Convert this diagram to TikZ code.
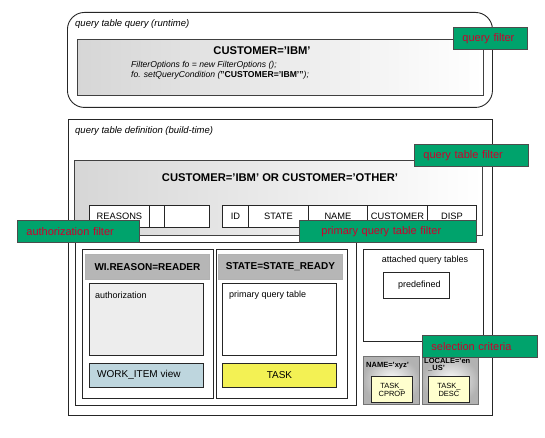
\documentclass[tikz,border=0pt]{standalone}
\usepackage{fontspec}
\setmainfont{Liberation Sans}
\usepackage{tikz}
\usetikzlibrary{positioning, shadows}
\usepackage{xcolor}
\definecolor{filtergreen}{RGB}{0,163,108}
\definecolor{filterred}{RGB}{205,0,45}
\definecolor{hdrgray}{RGB}{182,182,182}
\definecolor{authgray}{RGB}{237,237,237}
\definecolor{viewblue}{RGB}{190,214,222}
\definecolor{taskyellow}{RGB}{243,241,84}
\definecolor{tablecream}{RGB}{255,255,206}
\tikzset{
  frame/.style={rectangle, draw=black!85, line width=0.9pt,
                anchor=north west, inner sep=0pt},
  condbox/.style={frame, draw=black!75, left color=black!16,
                  right color=white},
  hdrbox/.style={rectangle, fill=hdrgray, draw=black!30, line width=0.9pt,
                 anchor=north west, inner sep=0pt,
                 font=\fontsize{10}{12}\selectfont\bfseries},
  cell/.style={rectangle, draw=black!85, line width=0.9pt,
               anchor=north west, inner sep=0pt, minimum height=22pt,
               font=\fontsize{9.3}{11}\selectfont},
  critbox/.style={frame, draw=black!55, inner color=white,
                  outer color=black!30},
  tabbox/.style={frame, fill=tablecream, align=center,
                 font=\fontsize{7.5}{8}\selectfont},
  filtertag/.style={rectangle, draw=black!70, line width=0.8pt,
                    fill=filtergreen, text=filterred, anchor=north west,
                    inner xsep=9pt, inner ysep=0pt, minimum height=22pt,
                    align=left, text width=#1,
                    font=\fontsize{11}{13}\selectfont,
                    drop shadow={shadow xshift=1pt, shadow yshift=-1pt,
                                 fill=black!55, opacity=1}},
  caption/.style={anchor=west, inner sep=0pt,
                  font=\fontsize{9.5}{11}\selectfont\itshape},
  plain/.style={inner sep=0pt, font=\fontsize{9}{11}\selectfont},
}

\begin{document}
\begin{tikzpicture}[x=1pt, y=-1pt]
  \useasboundingbox (0,0) rectangle (545,438);

  % runtime query
  \node[frame, rounded corners=17pt, minimum width=425pt,
        minimum height=95pt] (runtime) at (67,12) {};
  \node[caption] (runtimecap) at (75,24) {query table query (runtime)};
  \node[condbox, minimum width=406pt, minimum height=56pt] (qcond) at (77,39) {};
  \node[plain, font=\fontsize{11.2}{13}\selectfont\bfseries] (qcondtxt)
        at (262,51) {CUSTOMER='IBM'};
  \node[plain, anchor=north west, align=left,
        font=\fontsize{8.6}{10}\selectfont\itshape] (qcode) at (131,61)
        {FilterOptions fo = new FilterOptions ();\\
         fo. setQueryCondition (\textbf{\upshape"CUSTOMER='IBM'"});};
  \node[filtertag=56pt] (qfilter) at (453,27) {query filter};

  % build-time definition
  \node[frame, minimum width=424pt, minimum height=296pt] (buildtime) at (68,119) {};
  \node[caption] (buildcap) at (75,131) {query table definition (build-time)};
  \node[condbox, minimum width=408pt, minimum height=75pt] (qtcond) at (74,160) {};
  \node[plain, font=\fontsize{11.2}{13}\selectfont\bfseries] (qtcondtxt)
        at (280,178) {CUSTOMER='IBM' OR CUSTOMER='OTHER'};

  % columns
  \node[cell, fill=white, minimum width=60pt] (reasons) at (89,205) {REASONS};
  \node[cell, fill=white, minimum width=15pt] (blanka) at (149,205) {};
  \node[cell, fill=white, minimum width=45pt] (blankb) at (164,205) {};
  \node[cell, fill=white, minimum width=26pt] (colid) at (222,205) {ID};
  \node[cell, fill=white, minimum width=60pt] (colstate) at (248,205) {STATE};
  \node[cell, fill=white, minimum width=59pt] (colname) at (308,205) {NAME};
  \node[cell, fill=white, minimum width=60pt] (colcust) at (367,205) {CUSTOMER};
  \node[cell, fill=white, minimum width=49pt] (coldisp) at (427,205) {DISP};
  \node[filtertag=96pt] (qtfilter) at (414,144) {query table filter};

  % views
  \node[frame, minimum width=281pt, minimum height=163pt] (views) at (75,242) {};
  \node[frame, minimum width=131pt, minimum height=149pt] (authpart) at (82,249) {};
  \node[hdrbox, minimum width=124pt, minimum height=25pt] (authhdr) at (85,254)
        {WI.REASON=READER};
  \node[frame, fill=authgray, minimum width=114pt, minimum height=72pt] (authbox)
        at (89,283) {};
  \node[plain, anchor=west] (authtxt) at (95,295) {authorization};
  \node[frame, fill=viewblue, minimum width=114pt, minimum height=24pt] (wiview)
        at (89,363) {};
  \node[plain, anchor=west, font=\fontsize{10}{12}\selectfont] (wiviewtxt)
        at (97,375) {WORK\_ITEM view};

  \node[frame, minimum width=131pt, minimum height=149pt] (primpart) at (216,249) {};
  \node[hdrbox, minimum width=124pt, minimum height=25pt] (primhdr) at (218,254)
        {STATE=STATE\_READY};
  \node[frame, fill=white, minimum width=114pt, minimum height=72pt] (primbox)
        at (222,283) {};
  \node[plain, anchor=west] (primtxt) at (229,295) {primary query table};
  \node[frame, fill=taskyellow, minimum width=114pt, minimum height=24pt,
        font=\fontsize{10}{12}\selectfont] (task) at (222,363) {TASK};

  % attached tables
  \node[frame, minimum width=120pt, minimum height=92pt] (attached) at (363,249) {};
  \node[plain] (attachedtxt) at (425,260) {attached query tables};
  \node[frame, minimum width=66pt, minimum height=26pt, plain,
        xshift=0pt] (predef) at (383,272) {\hspace{6pt}predefined};

  % selection criteria
  \node[critbox, minimum width=56pt, minimum height=48pt] (namecrit) at (363,356) {};
  \node[plain, anchor=west, font=\fontsize{7.5}{8}\selectfont\bfseries]
        (nametxt) at (366,366) {NAME='xyz'};
  \node[tabbox, minimum width=41pt, minimum height=26pt] (cprop) at (371,376)
        {TASK\_\\CPROP};
  \node[critbox, minimum width=56pt, minimum height=48pt] (localecrit) at (422,356) {};
  \node[plain, anchor=north west, align=left,
        font=\fontsize{7.5}{7.5}\selectfont\bfseries] (localetxt) at (424,358)
        {LOCALE='en\\\hspace{4pt}\_US'};
  \node[tabbox, minimum width=41pt, minimum height=26pt] (desc) at (428,376)
        {TASK\_\\DESC};

  % filter tags on top
  \node[filtertag=104pt] (authfilter) at (17,220) {authorization filter};
  \node[filtertag=159pt] (primfilter) at (299,220) {\hspace{13pt}primary query table filter};
  \node[filtertag=97pt] (selfilter) at (422,335) {selection criteria};
\end{tikzpicture}
\end{document}
